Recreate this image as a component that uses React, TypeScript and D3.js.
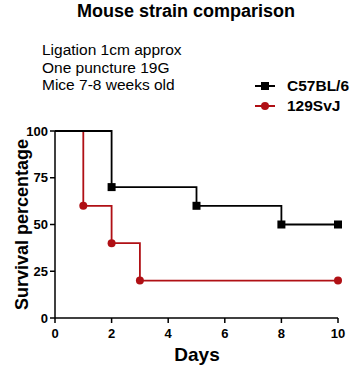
import React from "react";
import * as d3 from "d3";

// survival steps: [day, percent]
const c57Steps: [number, number][] = [[0, 100], [2, 70], [5, 60], [8, 50], [10, 50]];
const svjSteps: [number, number][] = [[0, 100], [1, 60], [2, 40], [3, 20], [10, 20]];
const c57Marks: [number, number][] = [[2, 70], [5, 60], [8, 50], [10, 50]];
const svjMarks: [number, number][] = [[1, 60], [2, 40], [3, 20], [10, 20]];
const xTicks = [0, 2, 4, 6, 8, 10];
const yTicks = [0, 25, 50, 75, 100];
const notes = ["Ligation 1cm approx", "One puncture 19G", "Mice 7-8 weeks old"];

const BLACK = "#000";
const RED = "#b01015";
const FONT = "Arial, 'Liberation Sans', sans-serif";

export default function App() {
  const x = d3.scaleLinear().domain([0, 10]).range([55, 338]);
  const y = d3.scaleLinear().domain([0, 100]).range([318, 131]);
  const line = d3
    .line<[number, number]>()
    .x((d) => x(d[0]))
    .y((d) => y(d[1]))
    .curve(d3.curveStepAfter);

  return (
    <svg
      width={350}
      height={375}
      style={{ position: "absolute", left: 0, top: 0, fontFamily: FONT }}
    >
      <rect width={350} height={375} fill="#fff" />
      <text x={186} y={17} textAnchor="middle" fontSize={18} fontWeight="bold">
        Mouse strain comparison
      </text>
      {notes.map((n, i) => (
        <text key={n} x={42} y={55 + i * 17.5} fontSize={15.5}>
          {n}
        </text>
      ))}

      {/* legend */}
      <g>
        <line x1={255} x2={275} y1={86} y2={86} stroke={BLACK} strokeWidth={2} />
        <rect x={261} y={82} width={8} height={8} fill={BLACK} />
        <text x={287} y={91} fontSize={15.5} fontWeight="bold">C57BL/6</text>
        <line x1={255} x2={275} y1={106} y2={106} stroke={RED} strokeWidth={2} />
        <circle cx={265} cy={106} r={4} fill={RED} />
        <text x={287} y={111} fontSize={15.5} fontWeight="bold">129SvJ</text>
      </g>

      {/* axes */}
      <g stroke={BLACK} strokeWidth={1.5}>
        <line x1={x(0)} x2={x(0)} y1={y(100)} y2={y(0)} />
        <line x1={x(0)} x2={x(10)} y1={y(0)} y2={y(0)} />
        {yTicks.map((t) => (
          <line key={t} x1={x(0) - 5} x2={x(0)} y1={y(t)} y2={y(t)} />
        ))}
        {xTicks.map((t) => (
          <line key={t} x1={x(t)} x2={x(t)} y1={y(0)} y2={y(0) + 5} />
        ))}
      </g>
      {yTicks.map((t) => (
        <text key={t} x={x(0) - 7} y={y(t) + 4.5} textAnchor="end" fontSize={13} fontWeight="bold">
          {t}
        </text>
      ))}
      {xTicks.map((t) => (
        <text key={t} x={x(t)} y={y(0) + 20} textAnchor="middle" fontSize={13} fontWeight="bold">
          {t}
        </text>
      ))}
      <text x={197} y={361} textAnchor="middle" fontSize={19} fontWeight="bold">
        Days
      </text>
      <text
        transform={`translate(28,${y(50)}) rotate(-90)`}
        textAnchor="middle"
        fontSize={18}
        fontWeight="bold"
      >
        Survival percentage
      </text>

      {/* series */}
      <path d={line(svjSteps) ?? ""} fill="none" stroke={RED} strokeWidth={1.8} />
      {svjMarks.map((d, i) => (
        <circle key={i} cx={x(d[0])} cy={y(d[1])} r={4} fill={RED} />
      ))}
      <path d={line(c57Steps) ?? ""} fill="none" stroke={BLACK} strokeWidth={1.8} />
      {c57Marks.map((d, i) => (
        <rect key={i} x={x(d[0]) - 4} y={y(d[1]) - 4} width={8} height={8} fill={BLACK} />
      ))}
    </svg>
  );
}
